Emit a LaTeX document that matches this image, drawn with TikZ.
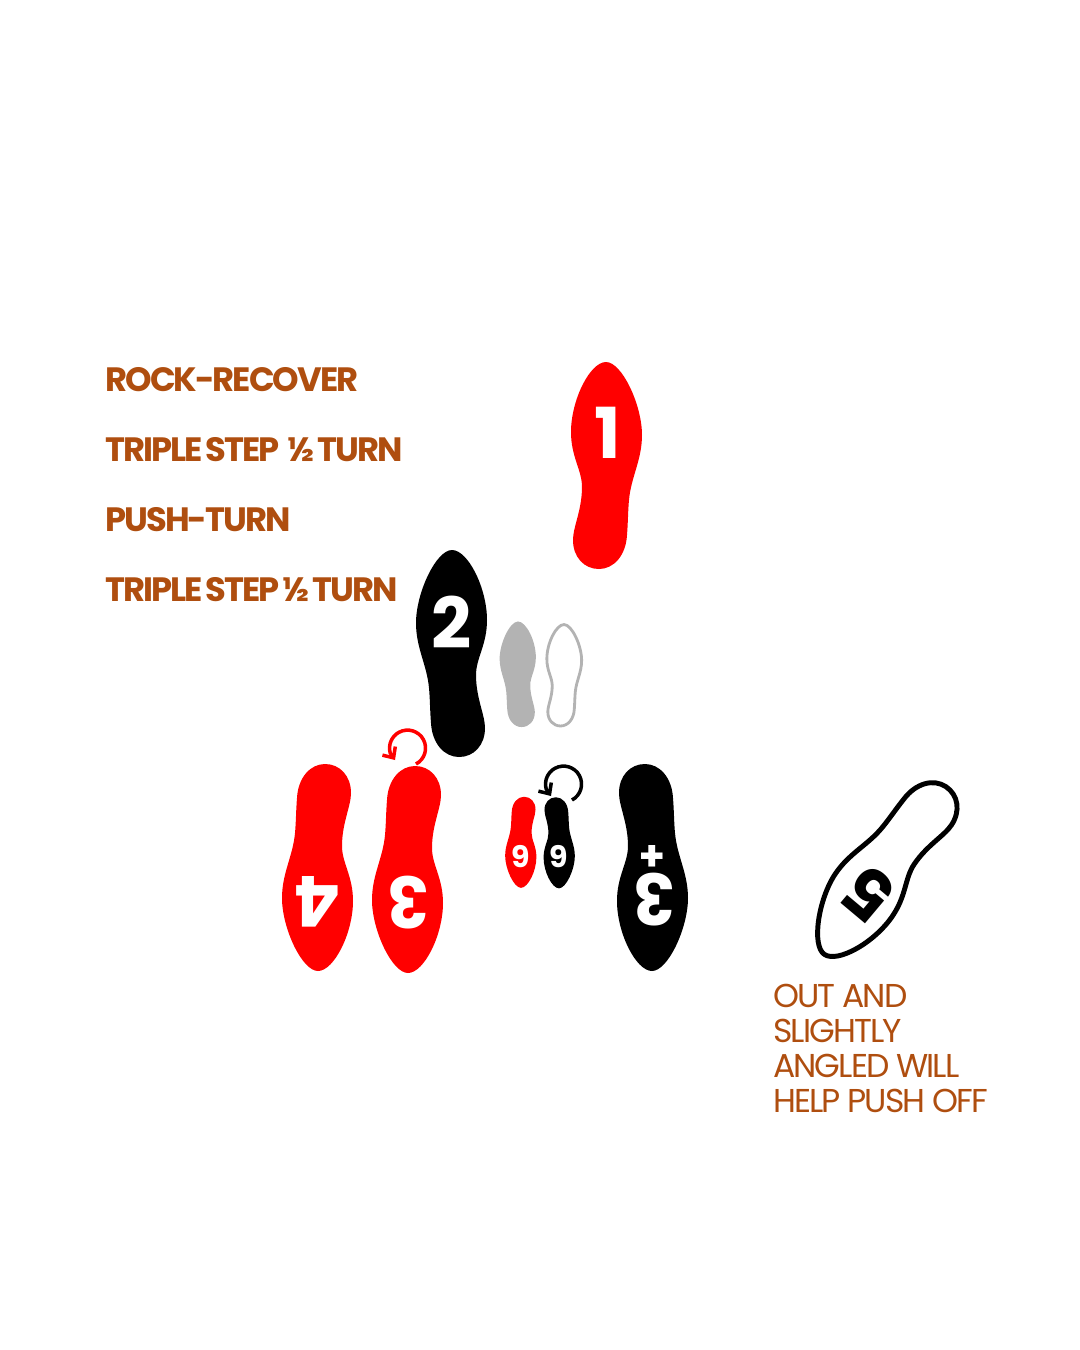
\documentclass[tikz,border=0pt]{standalone}
\usepackage{fontspec}
\setmainfont{Poppins}
\newfontfamily\stepfont{Poppins}[LetterSpace=-6]
\newfontfamily\notefont{Poppins}[LetterSpace=-5.8]
\definecolor{stepRed}{HTML}{FF0000}
\definecolor{stepRust}{HTML}{AF4E0F}
\definecolor{stepGrey}{HTML}{B3B3B3}
\usetikzlibrary{arrows.meta}
\newcommand{\wordgap}{\hspace{0.75pt}}
\newcommand{\footsole}{(0,-103) .. controls (16,-103) and (36,-60) .. (36,-30)
    .. controls (36,-5) and (25,12) .. (23,35)
    .. controls (22,45) and (22,58) .. (21,70)
    .. controls (20,90) and (8,104) .. (-7,104)
    .. controls (-22,104) and (-33,92) .. (-33,75)
    .. controls (-33,62) and (-24,45) .. (-24,22)
    .. controls (-24,5) and (-35,-8) .. (-35,-33)
    .. controls (-35,-65) and (-16,-103) .. (0,-103) -- cycle}
\tikzset{
    move/.style={font=\stepfont\bfseries\fontsize{9.6}{11}\selectfont, text=stepRust, anchor=base west, inner sep=0pt},
    note/.style={font=\notefont\fontsize{9.4}{9.92}\selectfont, text=stepRust, anchor=base west, inner sep=0pt, align=left},
    count/.style={font=\bfseries\fontsize{20}{24}\selectfont, text=white, inner sep=0pt},
    smallcount/.style={font=\bfseries\fontsize{8.5}{10}\selectfont, text=white, inner sep=0pt},
    turn/.style={line width=1pt, -{Straight Barb[length=2.4pt,width=4.4pt]}},
}

\begin{document}
\begin{tikzpicture}[x=0.01cm, y=-0.01cm]
    \useasboundingbox (0,0) rectangle (1080,1350);

    % Move list
    \node[move] (rock) at (105,391) {ROCK-RECOVER};
    \node[move] (tripleA) at (105,461) {TRIPLE\wordgap STEP\hspace{2.3pt}½\wordgap TURN};
    \node[move] (push) at (105,531) {PUSH-TURN};
    \node[move] (tripleB) at (105,601) {TRIPLE\wordgap STEP\wordgap ½\wordgap TURN};

    % Top feet
    \fill[stepRed, shift={(606,465)}] \footsole;
    \node[count] (one) at (608,433) {1};
    \fill[black, shift={(452,653)}, xscale=-1] \footsole;
    \node[count] (two) at (452,622) {2};

    % Small start position
    \fill[stepGrey, shift={(518,674)}, xscale=-0.51, yscale=0.51] \footsole;
    \draw[stepGrey, line width=0.8pt, shift={(564,675)}, scale=0.49] \footsole;

    % Bottom feet, pointing back
    \fill[stepRed, shift={(318,868)}, rotate=180] \footsole;
    \node[count, rotate=180] (four) at (318,902) {4};
    \fill[stepRed, shift={(408,870)}, rotate=180] \footsole;
    \node[count, rotate=180] (three) at (408,903) {3};
    \fill[black, shift={(652,868)}, yscale=-1] \footsole;
    \node[count, rotate=180] (threeB) at (654,900) {3};
    \node[smallcount, font=\bfseries\fontsize{12}{14}\selectfont, rotate=180] (plus) at (652,854) {+};

    % Small six feet
    \fill[stepRed, shift={(521,842.5)}, rotate=180, scale=0.44] \footsole;
    \node[smallcount, rotate=180] (sixA) at (521,857) {6};
    \fill[black, shift={(559,843)}, xscale=0.44, yscale=-0.44] \footsole;
    \node[smallcount, rotate=180] (sixB) at (559,857) {6};

    % Turn arrows
    \coordinate (turnRed) at (416,764);
    \coordinate (tipRed) at (395,760);
    \draw[turn, stepRed] (turnRed) arc (62:-195:18) -- (tipRed);
    \coordinate (turnBlack) at (572,800);
    \coordinate (tipBlack) at (551,796);
    \draw[turn, black] (turnBlack) arc (62:-195:18) -- (tipBlack);

    % Angled foot
    \draw[black, line width=1.4pt, shift={(882,869)}, rotate=146] \footsole;
    \node[count, text=black, font=\bfseries\fontsize{19.5}{22}\selectfont, rotate=140] (five) at (869,894) {5};
    \node[note] (out) at (772.5,1112) {OUT AND\\SLIGHTLY\\ANGLED WILL\\HELP PUSH OFF};
\end{tikzpicture}
\end{document}
